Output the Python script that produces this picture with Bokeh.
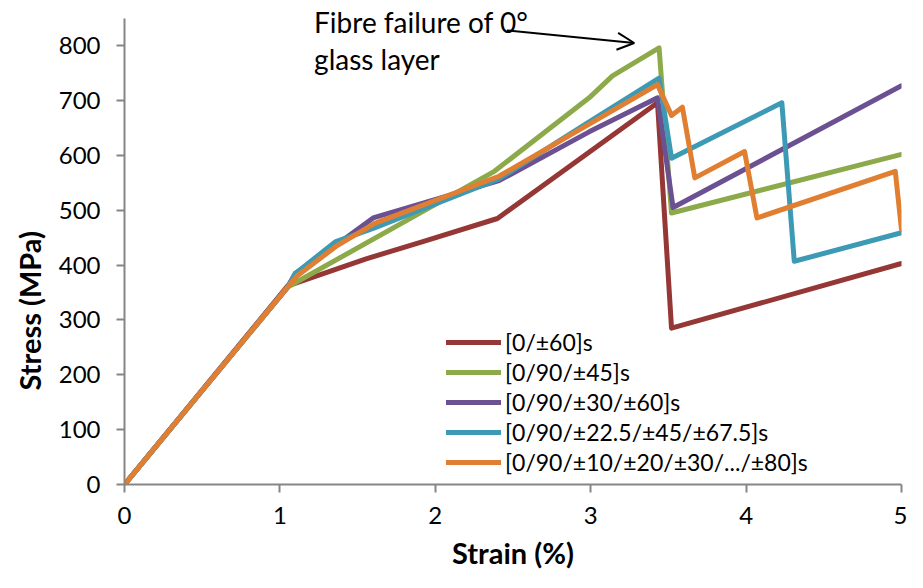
from bokeh.plotting import figure
from bokeh.models import Range1d, Label, Arrow, OpenHead, Legend, LegendItem, FixedTicker, Title
from bokeh.embed import file_html
from bokeh.resources import INLINE

# ---- data ----
series_names = ["[0/±60]s", "[0/90/±45]s", "[0/90/±30/±60]s",
                "[0/90/±22.5/±45/±67.5]s", "[0/90/±10/±20/±30/.../±80]s"]

strain_a = [0, 1.05, 1.55, 1.92, 2.40, 3.43, 3.52, 5.0]
stress_a = [0, 362, 411, 443, 485, 696, 285, 403]

strain_b = [0, 1.05, 2.38, 2.99, 3.14, 3.44, 3.52, 5.0]
stress_b = [0, 360, 571, 705, 745, 796, 495, 602]

strain_c = [0, 1.05, 1.10, 1.36, 1.60, 2.41, 2.99, 3.43, 3.53, 5.0]
stress_c = [0, 360, 385, 436, 486, 554, 643, 705, 505, 727]

strain_d = [0, 1.05, 1.10, 1.36, 1.60, 2.41, 2.99, 3.44, 3.52, 4.23, 4.31, 5.0]
stress_d = [0, 360, 385, 443, 467, 557, 661, 741, 595, 696, 407, 459]

strain_e = [0, 1.05, 1.11, 1.36, 1.61, 2.41, 2.99, 3.43, 3.52, 3.59, 3.67, 3.99, 4.07, 4.96, 5.0]
stress_e = [0, 360, 380, 434, 476, 562, 657, 729, 673, 688, 559, 607, 486, 571, 465]

x_ticks = [0, 1, 2, 3, 4, 5]
y_ticks = [0, 100, 200, 300, 400, 500, 600, 700, 800]

colors = ["#953735", "#8CAA4A", "#6C5192", "#3D9AB5", "#E07F32"]
FONT = "Lato"

p = figure(width=907, height=572, output_backend="svg", toolbar_location=None,
           x_range=Range1d(0, 5), y_range=Range1d(0, 877),
           min_border_left=124, min_border_right=6, min_border_top=3, min_border_bottom=85)
p.outline_line_color = None
p.xgrid.visible = False
p.ygrid.visible = False

for ax in (p.xaxis[0], p.yaxis[0]):
    ax.axis_line_color = "#868686"
    ax.axis_line_width = 2
    ax.major_tick_line_color = "#868686"
    ax.major_tick_line_width = 2
    ax.major_tick_out = 8
    ax.major_tick_in = 0
    ax.minor_tick_line_color = None
    ax.major_label_text_font = FONT
    ax.major_label_text_font_size = "24px"
    ax.major_label_text_color = "#000000"

p.yaxis.major_label_standoff = 16
p.xaxis.major_label_standoff = 14
p.yaxis.bounds = (0, 850)
p.xaxis.ticker = FixedTicker(ticks=x_ticks)
p.yaxis.ticker = FixedTicker(ticks=y_ticks)
p.xaxis.axis_label = "Strain (%)"
p.xaxis.axis_label_text_font = FONT
p.xaxis.axis_label_text_font_size = "29px"
p.xaxis.axis_label_text_font_style = "bold"
p.xaxis.axis_label_text_color = "#000000"
p.xaxis.axis_label_standoff = 8

xs = [strain_a, strain_b, strain_c, strain_d, strain_e]
ys = [stress_a, stress_b, stress_c, stress_d, stress_e]
items = []
for name, x, y, c in zip(series_names, xs, ys, colors):
    r = p.line(x, y, line_color=c, line_width=5, line_join="round", line_cap="round")
    items.append(LegendItem(label=name, renderers=[r]))

legend = Legend(items=items, location=(322, 8), padding=0, margin=0,
                border_line_color=None, background_fill_alpha=0,
                glyph_width=55, glyph_height=20, label_height=20, spacing=2,
                label_standoff=4, label_text_font=FONT, label_text_font_size="23px",
                label_text_color="#000000")
p.add_layout(legend, "center")

# y axis title
p.add_layout(Title(text="Stress (MPa)", align="left", offset=94, standoff=18,
                   text_font=FONT, text_font_size="29px", text_font_style="bold",
                   text_color="#000000"), "left")

# annotation
p.add_layout(Label(x=1.22, y=843, text="Fibre failure of 0°", text_align="left",
                   text_baseline="middle", text_font=FONT, text_font_size="28px",
                   text_color="#000000"))
p.add_layout(Label(x=1.22, y=776, text="glass layer", text_align="left",
                   text_baseline="middle", text_font=FONT, text_font_size="28px",
                   text_color="#000000"))
p.add_layout(Arrow(x_start=2.46, y_start=828, x_end=3.28, y_end=805,
                   line_color="#000000", line_width=2,
                   end=OpenHead(size=17, line_color="#000000", line_width=2)))

open("out.html", "w").write(file_html(p, INLINE))
